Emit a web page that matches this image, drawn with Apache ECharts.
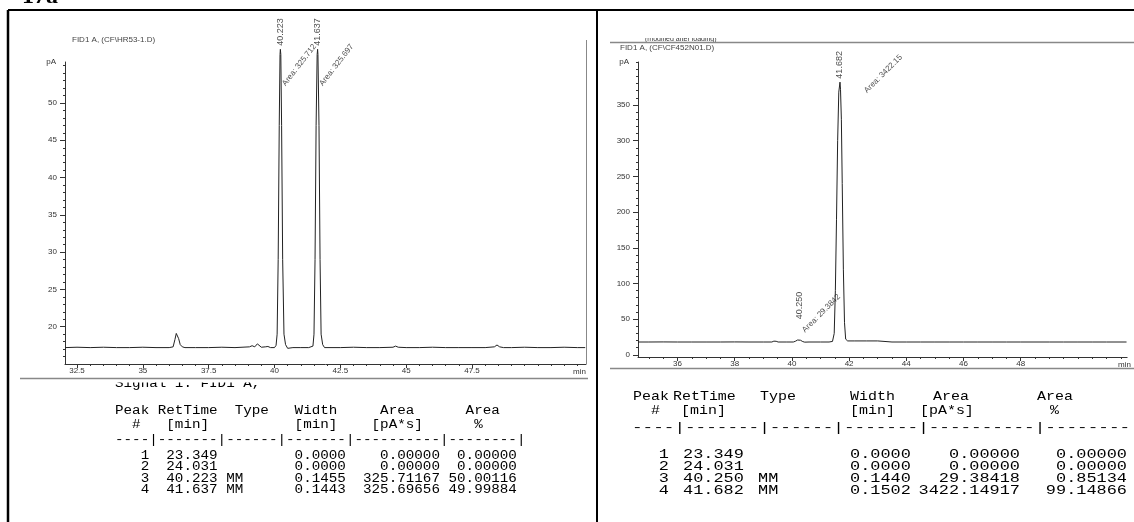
<!DOCTYPE html>
<html><head><meta charset="utf-8">
<script src="https://cdn.jsdelivr.net/npm/echarts@6/dist/echarts.min.js"></script>
<style>html,body{margin:0;padding:0;background:#fff}#c{width:1134px;height:522px}</style>
</head><body><div id="c"></div>
<script>
// ---------- data ----------
const figureLabel = '17a';
const leftTitle = 'FID1 A, (CF\\HR53-1.D)';
const rightTitle = 'FID1 A, (CF\\CF452N01.D)';
const rightCutTitle = '(modified after loading)';
const leftSignalLine = 'Signal 1: FID1 A,';

const leftTimes = [32.05,32.5,33.0,33.5,34.0,34.5,35.0,35.5,36.0,36.15,36.22,36.27,36.31,36.36,36.42,36.5,36.6,37.0,37.5,38.0,38.5,39.05,39.15,39.25,39.35,39.42,39.5,39.65,39.75,39.85,40.0,40.06,40.1,40.14,40.18,40.21,40.223,40.24,40.27,40.31,40.36,40.42,40.5,40.7,41.0,41.3,41.46,41.5,41.54,41.58,41.62,41.637,41.65,41.69,41.73,41.77,41.83,41.9,42.5,43.0,43.5,44.0,44.5,44.6,44.7,45.0,45.5,46.0,46.5,47.0,47.5,48.0,48.35,48.45,48.55,48.7,49.0,49.5,50.0,50.5,51.0,51.5,51.8];
const leftPA =    [17.2,17.25,17.2,17.25,17.2,17.2,17.25,17.2,17.2,17.3,18.3,19.1,19.2,18.4,17.6,17.3,17.2,17.2,17.2,17.25,17.2,17.3,17.45,17.3,17.7,17.5,17.25,17.3,17.35,17.2,17.2,17.5,19,29,47,56.5,57.2,56.5,47,29,19,17.6,17.1,17.2,17.2,17.2,17.4,19,29,47,56.5,57.2,56.5,47,29,19,17.6,17.2,17.2,17.25,17.2,17.2,17.25,17.4,17.25,17.2,17.2,17.25,17.2,17.2,17.2,17.2,17.3,17.55,17.3,17.2,17.2,17.25,17.2,17.2,17.25,17.2,17.2];

const rightTimes = [34.62,35.0,35.5,36.0,36.5,37.0,37.5,38.0,38.5,39.0,39.3,39.37,39.45,39.52,39.8,40.05,40.12,40.2,40.25,40.3,40.38,40.45,40.6,41.0,41.3,41.42,41.48,41.52,41.56,41.6,41.64,41.682,41.7,41.73,41.76,41.8,41.84,41.88,41.95,42.2,42.6,43.0,43.05,43.5,44.0,44.5,45.0,45.5,46.0,46.5,47.0,47.5,48.0,48.5,49.0,49.5,50.0,50.5,51.0,51.7];
const rightPA =    [18,18,18.1,18,18,18,18,18.1,18,18,18,19.2,19,18,18,18,19,20.8,21.3,20.5,18.6,17.8,18,18,18,18.8,30,90,190,300,368,382,372,330,240,120,45,22,19.5,19.5,19.5,19.5,18.3,18,18,18,18,18,18,18,18,18,18,18,18,18,18,18,18,18];

const leftXTickLabels = [32.5,35,37.5,40,42.5,45,47.5];
const leftYTickLabels = [20,25,30,35,40,45,50];
const rightXTickLabels = [36,38,40,42,44,46,48];
const rightYTickLabels = [0,50,100,150,200,250,300,350];

const leftPeakRT = [40.223, 41.637];
const leftPeakApex = [57.2, 57.2];
const leftPeakArea = ['325.712', '325.697'];
const rightPeakRT = [40.250, 41.682];
const rightPeakApex = [21.3, 382];
const rightPeakArea = ['29.3842', '3422.15'];

const peakNo = [1, 2, 3, 4];
const leftRet = ['23.349', '24.031', '40.223', '41.637'];
const leftType = ['', '', 'MM', 'MM'];
const leftWidth = ['0.0000', '0.0000', '0.1455', '0.1443'];
const leftArea = ['0.00000', '0.00000', '325.71167', '325.69656'];
const leftPct = ['0.00000', '0.00000', '50.00116', '49.99884'];
const rightRet = ['23.349', '24.031', '40.250', '41.682'];
const rightType = ['', '', 'MM', 'MM'];
const rightWidth = ['0.0000', '0.0000', '0.1440', '0.1502'];
const rightArea = ['0.00000', '0.00000', '29.38418', '3422.14917'];
const rightPct = ['0.00000', '0.00000', '0.85134', '99.14866'];

const header1 = 'Peak RetTime  Type   Width     Area      Area';
const header2 = '  #   [min]          [min]    [pA*s]      %';
const header1Words = ['Peak', 'RetTime', 'Type', 'Width', 'Area', 'Area'];
const header2Words = ['#', '[min]', '[min]', '[pA*s]', '%'];
const dashLineLeft = '----|-------|------|-------|----------|--------|';
const dashLineRight = '----|-------|------|-------|----------|--------';

// ---------- helpers ----------
function steps(a, b, s) { const r = []; for (let v = a; v <= b + 1e-9; v += s) r.push(+v.toFixed(4)); return r; }
function pair(xs, ys) { return xs.map((x, i) => [x, ys[i]]); }
function rowText(i, ret, type, w, a, p) {
  return String(i).padStart(4) + ' ' + ret.padStart(7) + ' ' + type.padEnd(6) + ' ' + w.padStart(7) + ' ' + a.padStart(10) + ' ' + p.padStart(8);
}
const SANS = 'Liberation Sans, Arial, sans-serif';
const MONO = 'Liberation Mono, Courier New, monospace';
const AX = '#333';

function mainX(grid, min, max, labels, nameGap, nameAlign) {
  return {
    type: 'value', gridIndex: grid, min: min, max: max, position: 'bottom',
    name: 'min', nameLocation: 'end', nameGap: nameGap,
    nameTextStyle: { fontFamily: SANS, fontSize: 8, color: AX, align: nameAlign, verticalAlign: 'top', padding: [4, 0, 0, 0] },
    axisLine: { show: true, onZero: false, lineStyle: { color: AX, width: 1 } },
    axisTick: { show: true, inside: false, length: 4, customValues: labels, lineStyle: { color: AX } },
    axisLabel: { show: true, customValues: labels, fontFamily: SANS, fontSize: 8, color: AX, margin: 3 },
    splitLine: { show: false }
  };
}
function minorX(grid, min, max, ticks) {
  return {
    type: 'value', gridIndex: grid, min: min, max: max, position: 'bottom',
    axisLine: { show: false, onZero: false }, axisLabel: { show: false },
    axisTick: { show: true, length: 2, customValues: ticks, lineStyle: { color: AX } },
    splitLine: { show: false }
  };
}
function mainY(grid, min, max, labels) {
  return {
    type: 'value', gridIndex: grid, min: min, max: max, position: 'left',
    name: 'pA', nameLocation: 'end', nameGap: 0,
    nameTextStyle: { fontFamily: SANS, fontSize: 8, color: AX, align: 'right', verticalAlign: 'middle', padding: [0, 9, 0, 0] },
    axisLine: { show: true, onZero: false, lineStyle: { color: AX, width: 1 } },
    axisTick: { show: true, length: 5, customValues: labels, lineStyle: { color: AX } },
    axisLabel: { show: true, customValues: labels, fontFamily: SANS, fontSize: 8, color: AX, margin: 8 },
    splitLine: { show: false }
  };
}
function minorY(grid, min, max, ticks) {
  return {
    type: 'value', gridIndex: grid, min: min, max: max, position: 'left',
    axisLine: { show: false, onZero: false }, axisLabel: { show: false },
    axisTick: { show: true, length: 2, customValues: ticks, lineStyle: { color: AX } },
    splitLine: { show: false }
  };
}
function rtLabels(xi, yi, xs, ys, dists) {
  return {
    type: 'scatter', xAxisIndex: xi, yAxisIndex: yi, symbolSize: 1, silent: true, clip: false,
    itemStyle: { color: 'rgba(0,0,0,0)' },
    data: xs.map((x, i) => ({ value: [x, ys[i]], label: { distance: dists[i] } })),
    label: { show: true, position: 'top', rotate: 90, align: 'left', verticalAlign: 'middle',
      fontFamily: SANS, fontSize: 9, color: '#222', formatter: p => p.value[0].toFixed(3) }
  };
}
function areaLabels(xi, yi, xs, ys, areas, rot, offs) {
  return {
    type: 'scatter', xAxisIndex: xi, yAxisIndex: yi, symbolSize: 1, silent: true, clip: false,
    itemStyle: { color: 'rgba(0,0,0,0)' },
    data: xs.map((x, i) => ({ value: [x, ys[i]], label: { position: offs[i] } })),
    label: { show: true, rotate: rot, align: 'left', verticalAlign: 'middle',
      fontFamily: SANS, fontSize: 8, color: '#222', formatter: p => 'Area: ' + areas[p.dataIndex] }
  };
}

// ---------- layout ----------
const L = { left: 65, top: 62, width: 521, height: 302 };
const R = { left: 638, top: 62, width: 496, height: 295 };
const LX = [32.044, 51.83], LY = [15, 55.5];
const RX = [34.62, 51.72], RY = [-3, 410.2];

function textEl(x, y, text, font, extra, sx) {
  return { type: 'text', x: x, y: y, scaleX: sx || 1, scaleY: 1, silent: true,
    style: Object.assign({ text: text, font: font, fill: '#000', textAlign: 'left', align: 'left', textVerticalAlign: 'middle', verticalAlign: 'middle' }, extra || {}) };
}
function lineEl(x1, y1, x2, y2, color, w) {
  return { type: 'line', silent: true, shape: { x1: x1, y1: y1, x2: x2, y2: y2 }, style: { stroke: color, lineWidth: w } };
}
const RIGHT = { textAlign: 'right', align: 'right' };

// left report: monospace lines
const leftFont = '12.5px ' + MONO, LSX = 1.14;
const leftTable = [
  textEl(115, 411, header1, leftFont, null, LSX),
  textEl(115, 425, header2, leftFont, null, LSX),
  textEl(115, 440, dashLineLeft, leftFont, null, LSX)
];
const leftRowY = [456, 467, 479, 490];
peakNo.forEach((n, i) => leftTable.push(textEl(115, leftRowY[i], rowText(n, leftRet[i], leftType[i], leftWidth[i], leftArea[i], leftPct[i]), leftFont, null, LSX)));

// right report: stretched scan, placed column by column
const rightFont = '13px ' + MONO, RSX = 1.3, RHSX = 1.15;
const rH1X = [633, 673, 760, 850, 933, 1037];
const rH2X = [651, 681, 850, 920, 1050];
const rightTable = [];
header1Words.forEach((w, i) => rightTable.push(textEl(rH1X[i], 397, w, rightFont, null, RHSX)));
header2Words.forEach((w, i) => rightTable.push(textEl(rH2X[i], 411, w, rightFont, null, RHSX)));
rightTable.push(textEl(632, 428, dashLineRight, rightFont, null, 498 / (dashLineRight.length * 7.8)));
const rightRowY = [455, 467, 479, 491];
peakNo.forEach((n, i) => {
  const y = rightRowY[i];
  rightTable.push(textEl(669, y, String(n), rightFont, RIGHT, RSX));
  rightTable.push(textEl(683, y, rightRet[i], rightFont, null, RSX));
  if (rightType[i]) rightTable.push(textEl(758, y, rightType[i], rightFont, null, RSX));
  rightTable.push(textEl(850, y, rightWidth[i], rightFont, null, RSX));
  rightTable.push(textEl(1020, y, rightArea[i], rightFont, RIGHT, RSX));
  rightTable.push(textEl(1127, y, rightPct[i], rightFont, RIGHT, RSX));
});

const graphics = [
  textEl(22, 9, figureLabel, 'bold 24px Liberation Serif, Times New Roman, serif', { textVerticalAlign: 'bottom', verticalAlign: 'bottom' }),
  lineEl(8, 10, 1134, 10, '#000', 2),
  lineEl(8, 10, 8, 522, '#000', 2.5),
  lineEl(597, 10, 597, 522, '#000', 2),
  // left chromatogram frame pieces
  lineEl(586.5, 40, 586.5, 364, '#888', 1),
  textEl(115, 384, leftSignalLine, leftFont, null, LSX),
  { type: 'rect', silent: true, shape: { x: 100, y: 375, width: 300, height: 7.5 }, style: { fill: '#fff' } },
  lineEl(20, 378.5, 588, 378.5, '#888', 1.5),
  textEl(72, 40, leftTitle, '8px ' + SANS, { fill: '#444' }),
  // right chromatogram frame pieces
  textEl(645, 39.5, rightCutTitle, '7px ' + SANS, { fill: '#333' }),
  { type: 'rect', silent: true, shape: { x: 630, y: 25, width: 200, height: 13 }, style: { fill: '#fff' } },
  lineEl(610, 42.5, 1134, 42.5, '#888', 1.5),
  textEl(620, 48, rightTitle, '8px ' + SANS, { fill: '#444' }),
  lineEl(610, 368.5, 1134, 368.5, '#888', 1.5)
].concat(leftTable).concat(rightTable);

const option = {
  animation: false,
  backgroundColor: '#fff',
  grid: [
    { left: L.left, top: L.top, width: L.width, height: L.height, containLabel: false },
    { left: R.left, top: R.top, width: R.width, height: R.height, containLabel: false }
  ],
  xAxis: [
    mainX(0, LX[0], LX[1], leftXTickLabels, 0, 'right'),
    minorX(0, LX[0], LX[1], steps(32.5, 51.5, 0.5)),
    mainX(1, RX[0], RX[1], rightXTickLabels, -9, 'left'),
    minorX(1, RX[0], RX[1], steps(35, 51.5, 0.5))
  ],
  yAxis: [
    mainY(0, LY[0], LY[1], leftYTickLabels),
    minorY(0, LY[0], LY[1], steps(16, 55, 1)),
    mainY(1, RY[0], RY[1], rightYTickLabels),
    minorY(1, RY[0], RY[1], steps(10, 410, 10))
  ],
  series: [
    { type: 'line', xAxisIndex: 0, yAxisIndex: 0, data: pair(leftTimes, leftPA), showSymbol: false, symbol: 'none', clip: false,
      lineStyle: { color: '#222', width: 1 }, silent: true },
    { type: 'line', xAxisIndex: 2, yAxisIndex: 2, data: pair(rightTimes, rightPA), showSymbol: false, symbol: 'none', clip: false,
      lineStyle: { color: '#222', width: 1 }, silent: true },
    rtLabels(0, 0, leftPeakRT, leftPeakApex, [3, 3]),
    areaLabels(0, 0, leftPeakRT, leftPeakApex, leftPeakArea, 52, [[4, 36], [4, 36]]),
    rtLabels(2, 2, rightPeakRT, rightPeakApex, [20, 3]),
    areaLabels(2, 2, rightPeakRT, rightPeakApex, rightPeakArea, 45, [[5, -8], [26, 10]])
  ],
  graphic: { elements: graphics }
};
const chart = echarts.init(document.getElementById('c'), null, { renderer: 'canvas' });
chart.setOption(option);
</script>
</body></html>
